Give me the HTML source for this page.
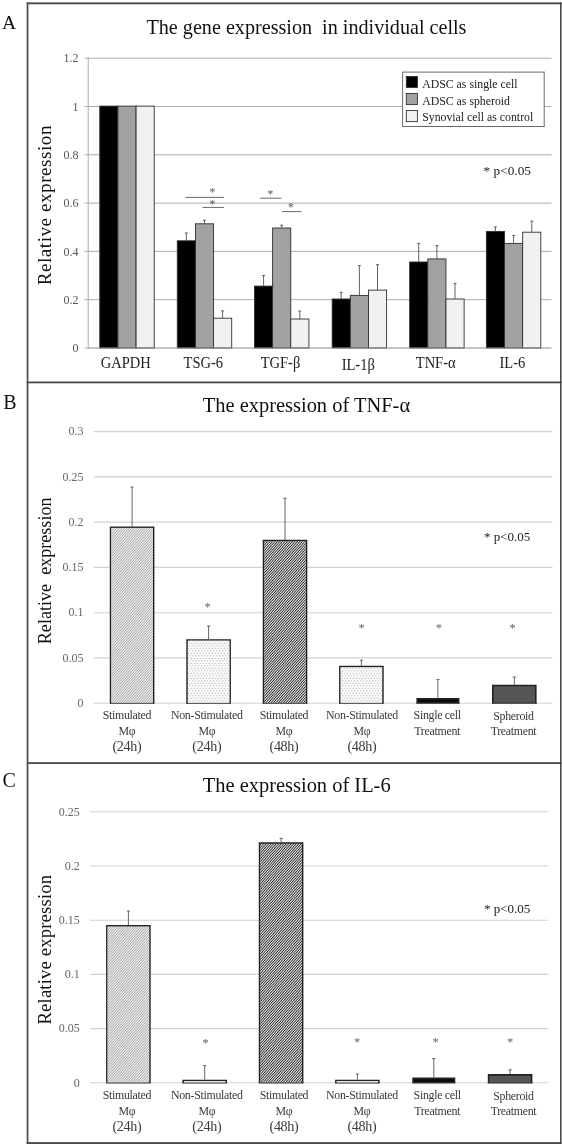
<!DOCTYPE html><html><head><meta charset="utf-8"><title>Figure</title><style>html,body{margin:0;padding:0;background:#fff}svg{display:block;filter:grayscale(1)}.b{filter:blur(0.35px)}text{font-family:"Liberation Serif",serif}</style></head><body>
<svg width="562" height="1145" viewBox="0 0 562 1145">
<defs>
<pattern id="h1" width="2.5" height="2.8" patternUnits="userSpaceOnUse"><rect width="2.5" height="2.8" fill="#ededed"/><path d="M-1.25 4.199999999999999L3.75 -1.4M-1.25 1.4L1.25 -1.4M1.25 4.199999999999999L3.75 1.4" stroke="#a3a3a3" stroke-width="0.9"/></pattern>
<pattern id="h2" width="2.5" height="2.8" patternUnits="userSpaceOnUse"><rect width="2.5" height="2.8" fill="#cfcfcf"/><path d="M-1.25 4.199999999999999L3.75 -1.4M-1.25 1.4L1.25 -1.4M1.25 4.199999999999999L3.75 1.4" stroke="#2e2e2e" stroke-width="0.95"/></pattern>
<pattern id="d1" width="3" height="5" patternUnits="userSpaceOnUse"><rect width="3" height="5" fill="#fbfbfb"/><circle cx="0.75" cy="0.75" r="0.6" fill="#a0a0a0"/><circle cx="2.25" cy="3.25" r="0.6" fill="#a0a0a0"/></pattern>
</defs>
<rect width="562" height="1145" fill="#fff"/>
<g class="b">
<rect x="26.7" y="2.4" width="534.9" height="1.9" fill="#4a4a4a"/>
<rect x="26.7" y="2.4" width="1.7" height="1141.6" fill="#4a4a4a"/>
<rect x="560.0" y="2.4" width="1.6" height="1141.6" fill="#4a4a4a"/>
<rect x="26.7" y="1142.1" width="534.9" height="1.9" fill="#4a4a4a"/>
<rect x="26.7" y="381.5" width="535" height="1.8" fill="#4a4a4a"/>
<rect x="26.7" y="762.2" width="535" height="1.8" fill="#4a4a4a"/>
<text x="1.9" y="29.3" font-size="19.6" fill="#111">A</text>
<text x="3.3" y="408.6" font-size="20.0" fill="#111">B</text>
<text x="2.6" y="786.9" font-size="20.0" fill="#111">C</text>
<line x1="88.2" y1="299.7" x2="551.5" y2="299.7" stroke="#adadad" stroke-width="1"/>
<line x1="88.2" y1="251.4" x2="551.5" y2="251.4" stroke="#adadad" stroke-width="1"/>
<line x1="88.2" y1="203.1" x2="551.5" y2="203.1" stroke="#adadad" stroke-width="1"/>
<line x1="88.2" y1="154.8" x2="551.5" y2="154.8" stroke="#adadad" stroke-width="1"/>
<line x1="88.2" y1="106.5" x2="551.5" y2="106.5" stroke="#adadad" stroke-width="1"/>
<line x1="88.2" y1="58.2" x2="551.5" y2="58.2" stroke="#adadad" stroke-width="1"/>
<line x1="84.6" y1="348.0" x2="88.2" y2="348.0" stroke="#adadad" stroke-width="1"/>
<text x="78.4" y="352.1" font-size="12" text-anchor="end" fill="#555">0</text>
<line x1="84.6" y1="299.7" x2="88.2" y2="299.7" stroke="#adadad" stroke-width="1"/>
<text x="78.4" y="303.8" font-size="12" text-anchor="end" fill="#555">0.2</text>
<line x1="84.6" y1="251.4" x2="88.2" y2="251.4" stroke="#adadad" stroke-width="1"/>
<text x="78.4" y="255.5" font-size="12" text-anchor="end" fill="#555">0.4</text>
<line x1="84.6" y1="203.1" x2="88.2" y2="203.1" stroke="#adadad" stroke-width="1"/>
<text x="78.4" y="207.2" font-size="12" text-anchor="end" fill="#555">0.6</text>
<line x1="84.6" y1="154.8" x2="88.2" y2="154.8" stroke="#adadad" stroke-width="1"/>
<text x="78.4" y="158.9" font-size="12" text-anchor="end" fill="#555">0.8</text>
<line x1="84.6" y1="106.5" x2="88.2" y2="106.5" stroke="#adadad" stroke-width="1"/>
<text x="78.4" y="110.6" font-size="12" text-anchor="end" fill="#555">1</text>
<line x1="84.6" y1="58.2" x2="88.2" y2="58.2" stroke="#adadad" stroke-width="1"/>
<text x="78.4" y="62.3" font-size="12" text-anchor="end" fill="#555">1.2</text>
<line x1="88.2" y1="57.3" x2="88.2" y2="348.5" stroke="#adadad" stroke-width="1"/>
<text x="146.5" y="33.6" font-size="20.15" fill="#111" xml:space="preserve">The gene expression  in individual cells</text>
<text transform="translate(51.2,285.3) rotate(-90)" font-size="19.2" letter-spacing="0.5" fill="#111">Relative expression</text>
<rect x="99.78" y="106.1" width="18.15" height="241.9" fill="#000" stroke="#2e2e2e" stroke-width="0.9"/>
<rect x="117.93" y="106.1" width="18.15" height="241.9" fill="#a2a2a2" stroke="#2e2e2e" stroke-width="0.9"/>
<rect x="136.07" y="106.1" width="18.15" height="241.9" fill="#f1f1f1" stroke="#2e2e2e" stroke-width="0.9"/>
<rect x="177.28" y="240.8" width="18.15" height="107.2" fill="#000" stroke="#2e2e2e" stroke-width="0.9"/>
<path d="M186.3 240.8V233M184.8 233H187.8" stroke="#505050" stroke-width="0.9" fill="none"/>
<rect x="195.43" y="223.8" width="18.15" height="124.2" fill="#a2a2a2" stroke="#2e2e2e" stroke-width="0.9"/>
<path d="M204.5 223.8V220.2M203.0 220.2H206.0" stroke="#505050" stroke-width="0.9" fill="none"/>
<rect x="213.57" y="318.2" width="18.15" height="29.8" fill="#f1f1f1" stroke="#2e2e2e" stroke-width="0.9"/>
<path d="M222.6 318.2V310.9M221.1 310.9H224.1" stroke="#505050" stroke-width="0.9" fill="none"/>
<rect x="254.47" y="286.1" width="18.15" height="61.9" fill="#000" stroke="#2e2e2e" stroke-width="0.9"/>
<path d="M263.6 286.1V275.5M262.1 275.5H265.1" stroke="#505050" stroke-width="0.9" fill="none"/>
<rect x="272.62" y="228" width="18.15" height="120.0" fill="#a2a2a2" stroke="#2e2e2e" stroke-width="0.9"/>
<path d="M281.7 228V225.2M280.2 225.2H283.2" stroke="#505050" stroke-width="0.9" fill="none"/>
<rect x="290.77" y="319" width="18.15" height="29.0" fill="#f1f1f1" stroke="#2e2e2e" stroke-width="0.9"/>
<path d="M299.8 319V311M298.3 311H301.3" stroke="#505050" stroke-width="0.9" fill="none"/>
<rect x="332.17" y="299" width="18.15" height="49.0" fill="#000" stroke="#2e2e2e" stroke-width="0.9"/>
<path d="M341.2 299V292.3M339.7 292.3H342.7" stroke="#505050" stroke-width="0.9" fill="none"/>
<rect x="350.32" y="295.4" width="18.15" height="52.6" fill="#a2a2a2" stroke="#2e2e2e" stroke-width="0.9"/>
<path d="M359.4 295.4V265.6M357.9 265.6H360.9" stroke="#505050" stroke-width="0.9" fill="none"/>
<rect x="368.47" y="290.1" width="18.15" height="57.9" fill="#f1f1f1" stroke="#2e2e2e" stroke-width="0.9"/>
<path d="M377.5 290.1V264.7M376.0 264.7H379.0" stroke="#505050" stroke-width="0.9" fill="none"/>
<rect x="409.67" y="262" width="18.15" height="86.0" fill="#000" stroke="#2e2e2e" stroke-width="0.9"/>
<path d="M418.7 262V243.4M417.2 243.4H420.2" stroke="#505050" stroke-width="0.9" fill="none"/>
<rect x="427.82" y="258.9" width="18.15" height="89.1" fill="#a2a2a2" stroke="#2e2e2e" stroke-width="0.9"/>
<path d="M436.9 258.9V245.6M435.4 245.6H438.4" stroke="#505050" stroke-width="0.9" fill="none"/>
<rect x="445.97" y="299" width="18.15" height="49.0" fill="#f1f1f1" stroke="#2e2e2e" stroke-width="0.9"/>
<path d="M455.0 299V283.4M453.5 283.4H456.5" stroke="#505050" stroke-width="0.9" fill="none"/>
<rect x="486.38" y="231.4" width="18.15" height="116.6" fill="#000" stroke="#2e2e2e" stroke-width="0.9"/>
<path d="M495.4 231.4V226.9M493.9 226.9H496.9" stroke="#505050" stroke-width="0.9" fill="none"/>
<rect x="504.52" y="243.4" width="18.15" height="104.6" fill="#a2a2a2" stroke="#2e2e2e" stroke-width="0.9"/>
<path d="M513.6 243.4V235.4M512.1 235.4H515.1" stroke="#505050" stroke-width="0.9" fill="none"/>
<rect x="522.67" y="232.2" width="18.15" height="115.8" fill="#f1f1f1" stroke="#2e2e2e" stroke-width="0.9"/>
<path d="M531.8 232.2V221.1M530.3 221.1H533.3" stroke="#505050" stroke-width="0.9" fill="none"/>
<line x1="88.2" y1="348.0" x2="551.5" y2="348.0" stroke="#8c8c8c" stroke-width="1"/>
<text transform="translate(125.8,367.7) scale(0.875,1)" font-size="16.6" text-anchor="middle" fill="#222">GAPDH</text>
<text transform="translate(203.3,367.7) scale(0.875,1)" font-size="16.6" text-anchor="middle" fill="#222">TSG-6</text>
<text transform="translate(280.5,367.7) scale(0.875,1)" font-size="16.6" text-anchor="middle" fill="#222">TGF-β</text>
<text transform="translate(358.2,369.9) scale(0.875,1)" font-size="16.6" text-anchor="middle" fill="#222">IL-1β</text>
<text transform="translate(435.7,367.7) scale(0.875,1)" font-size="16.6" text-anchor="middle" fill="#222">TNF-α</text>
<text transform="translate(512.4,367.7) scale(0.875,1)" font-size="16.6" text-anchor="middle" fill="#222">IL-6</text>
<line x1="185.4" y1="197.4" x2="224" y2="197.4" stroke="#686868" stroke-width="1"/>
<line x1="202.4" y1="207.4" x2="224" y2="207.4" stroke="#686868" stroke-width="1"/>
<line x1="260.2" y1="198.2" x2="281.4" y2="198.2" stroke="#686868" stroke-width="1"/>
<line x1="282.1" y1="211.6" x2="301.5" y2="211.6" stroke="#686868" stroke-width="1"/>
<text x="212.4" y="195.5" font-size="11.5" text-anchor="middle" fill="#555">*</text>
<text x="212.4" y="208.20000000000002" font-size="11.5" text-anchor="middle" fill="#555">*</text>
<text x="270.4" y="198.0" font-size="11.5" text-anchor="middle" fill="#555">*</text>
<text x="290.8" y="211.10000000000002" font-size="11.5" text-anchor="middle" fill="#555">*</text>
<rect x="402.6" y="72.1" width="141.6" height="54.4" fill="#fff" stroke="#6a6a6a" stroke-width="1"/>
<rect x="406.3" y="76.5" width="11.1" height="11.1" fill="#000" stroke="#333" stroke-width="0.9"/>
<text x="422.2" y="87.8" font-size="11.8" fill="#222">ADSC as single cell</text>
<rect x="406.3" y="93.5" width="11.1" height="11.1" fill="#a2a2a2" stroke="#333" stroke-width="0.9"/>
<text x="422.2" y="104.6" font-size="11.8" fill="#222">ADSC as spheroid</text>
<rect x="406.3" y="110.5" width="11.1" height="11.1" fill="#f1f1f1" stroke="#333" stroke-width="0.9"/>
<text x="422.2" y="121.4" font-size="11.8" fill="#222">Synovial cell as control</text>
<text x="483.6" y="175" font-size="13.3" fill="#222">* p&lt;0.05</text>
<line x1="93.9" y1="703.2" x2="552.5" y2="703.2" stroke="#d2d2d2" stroke-width="1.1"/>
<text x="83.6" y="706.9" font-size="12" text-anchor="end" fill="#666">0</text>
<line x1="93.9" y1="657.9" x2="552.5" y2="657.9" stroke="#d2d2d2" stroke-width="1.1"/>
<text x="83.6" y="661.6" font-size="12" text-anchor="end" fill="#666">0.05</text>
<line x1="93.9" y1="612.7" x2="552.5" y2="612.7" stroke="#d2d2d2" stroke-width="1.1"/>
<text x="83.6" y="616.4" font-size="12" text-anchor="end" fill="#666">0.1</text>
<line x1="93.9" y1="567.4" x2="552.5" y2="567.4" stroke="#d2d2d2" stroke-width="1.1"/>
<text x="83.6" y="571.1" font-size="12" text-anchor="end" fill="#666">0.15</text>
<line x1="93.9" y1="522.1" x2="552.5" y2="522.1" stroke="#d2d2d2" stroke-width="1.1"/>
<text x="83.6" y="525.8" font-size="12" text-anchor="end" fill="#666">0.2</text>
<line x1="93.9" y1="476.9" x2="552.5" y2="476.9" stroke="#d2d2d2" stroke-width="1.1"/>
<text x="83.6" y="480.6" font-size="12" text-anchor="end" fill="#666">0.25</text>
<line x1="93.9" y1="431.6" x2="552.5" y2="431.6" stroke="#d2d2d2" stroke-width="1.1"/>
<text x="83.6" y="435.3" font-size="12" text-anchor="end" fill="#666">0.3</text>
<text x="202.8" y="411.5" font-size="20.45" fill="#111">The expression of TNF-α</text>
<text transform="translate(50.8,644.2) rotate(-90)" font-size="18.1" letter-spacing="0" fill="#111" xml:space="preserve">Relative  expression</text>
<path d="M132.1 526.4V487M130.5 487H133.7" stroke="#555" stroke-width="0.9" fill="none"/>
<rect x="110.6" y="527.2" width="43.0" height="176.0" fill="#c9c9c9"/>
<path d="M110.6 703.5V527.2H153.6V703.5" fill="none" stroke="#222" stroke-width="1.6"/>
<line x1="109.8" y1="703.2" x2="154.4" y2="703.2" stroke="#333" stroke-width="1.2"/>
<path d="M208.6 639.2V626M207.0 626H210.2" stroke="#555" stroke-width="0.9" fill="none"/>
<rect x="187.1" y="640.0" width="43.0" height="63.2" fill="#f0f0f0"/>
<path d="M187.1 703.5V640.0H230.1V703.5" fill="none" stroke="#222" stroke-width="1.6"/>
<line x1="186.2" y1="703.2" x2="230.9" y2="703.2" stroke="#333" stroke-width="1.2"/>
<text x="207.7" y="611.3" font-size="12.5" text-anchor="middle" fill="#666">*</text>
<path d="M285.0 539.8V498.2M283.4 498.2H286.6" stroke="#555" stroke-width="0.9" fill="none"/>
<rect x="263.5" y="540.6" width="43.0" height="162.6" fill="#7c7c7c"/>
<path d="M263.5 703.5V540.6H306.5V703.5" fill="none" stroke="#222" stroke-width="1.6"/>
<line x1="262.7" y1="703.2" x2="307.3" y2="703.2" stroke="#333" stroke-width="1.2"/>
<path d="M361.4 665.8V660.2M359.79999999999995 660.2H363.0" stroke="#555" stroke-width="0.9" fill="none"/>
<rect x="339.9" y="666.6" width="43.0" height="36.6" fill="#f0f0f0"/>
<path d="M339.9 703.5V666.6H382.9V703.5" fill="none" stroke="#222" stroke-width="1.6"/>
<line x1="339.1" y1="703.2" x2="383.7" y2="703.2" stroke="#333" stroke-width="1.2"/>
<text x="361.6" y="631.6" font-size="12.5" text-anchor="middle" fill="#666">*</text>
<path d="M437.9 698.1V679.6M436.29999999999995 679.6H439.5" stroke="#555" stroke-width="0.9" fill="none"/>
<rect x="417.2" y="698.9" width="41.4" height="4.3" fill="#0a0a0a"/>
<path d="M417.2 703.5V698.9H458.6V703.5" fill="none" stroke="#222" stroke-width="1.6"/>
<line x1="416.4" y1="703.2" x2="459.4" y2="703.2" stroke="#333" stroke-width="1.2"/>
<text x="438.8" y="631.6" font-size="12.5" text-anchor="middle" fill="#666">*</text>
<path d="M514.3 684.7V677M512.6999999999999 677H515.9" stroke="#555" stroke-width="0.9" fill="none"/>
<rect x="492.8" y="685.5" width="43.0" height="17.7" fill="#555"/>
<path d="M492.8 703.5V685.5H535.8V703.5" fill="none" stroke="#222" stroke-width="1.6"/>
<line x1="492.0" y1="703.2" x2="536.6" y2="703.2" stroke="#333" stroke-width="1.2"/>
<text x="512.6" y="631.6" font-size="12.5" text-anchor="middle" fill="#666">*</text>
<text x="126.9" y="718.8" font-size="11.9" letter-spacing="-0.3" text-anchor="middle" fill="#3a3a3a">Stimulated</text>
<text x="126.9" y="735.0" font-size="11.9" letter-spacing="-0.3" text-anchor="middle" fill="#3a3a3a">Mφ</text>
<text x="126.9" y="751.4" font-size="14.1" letter-spacing="-0.3" text-anchor="middle" fill="#3a3a3a">(24h)</text>
<text x="206.8" y="718.8" font-size="11.9" letter-spacing="-0.3" text-anchor="middle" fill="#3a3a3a">Non-Stimulated</text>
<text x="206.8" y="735.0" font-size="11.9" letter-spacing="-0.3" text-anchor="middle" fill="#3a3a3a">Mφ</text>
<text x="206.8" y="751.4" font-size="14.1" letter-spacing="-0.3" text-anchor="middle" fill="#3a3a3a">(24h)</text>
<text x="284.0" y="718.8" font-size="11.9" letter-spacing="-0.3" text-anchor="middle" fill="#3a3a3a">Stimulated</text>
<text x="284.0" y="735.0" font-size="11.9" letter-spacing="-0.3" text-anchor="middle" fill="#3a3a3a">Mφ</text>
<text x="284.0" y="751.4" font-size="14.1" letter-spacing="-0.3" text-anchor="middle" fill="#3a3a3a">(48h)</text>
<text x="361.9" y="718.8" font-size="11.9" letter-spacing="-0.3" text-anchor="middle" fill="#3a3a3a">Non-Stimulated</text>
<text x="361.9" y="735.0" font-size="11.9" letter-spacing="-0.3" text-anchor="middle" fill="#3a3a3a">Mφ</text>
<text x="361.9" y="751.4" font-size="14.1" letter-spacing="-0.3" text-anchor="middle" fill="#3a3a3a">(48h)</text>
<text x="437.2" y="718.8" font-size="11.9" letter-spacing="-0.3" text-anchor="middle" fill="#3a3a3a">Single cell</text>
<text x="437.2" y="735.0" font-size="11.9" letter-spacing="-0.3" text-anchor="middle" fill="#3a3a3a">Treatment</text>
<text x="513.5" y="720.0" font-size="11.9" letter-spacing="-0.3" text-anchor="middle" fill="#3a3a3a">Spheroid</text>
<text x="513.5" y="735.0" font-size="11.9" letter-spacing="-0.3" text-anchor="middle" fill="#3a3a3a">Treatment</text>
<text x="484" y="540.8" font-size="13" fill="#222">* p&lt;0.05</text>
<line x1="90.2" y1="1082.8" x2="548.3" y2="1082.8" stroke="#d2d2d2" stroke-width="1.1"/>
<text x="79.8" y="1086.5" font-size="12" text-anchor="end" fill="#666">0</text>
<line x1="90.2" y1="1028.6" x2="548.3" y2="1028.6" stroke="#d2d2d2" stroke-width="1.1"/>
<text x="79.8" y="1032.3" font-size="12" text-anchor="end" fill="#666">0.05</text>
<line x1="90.2" y1="974.4" x2="548.3" y2="974.4" stroke="#d2d2d2" stroke-width="1.1"/>
<text x="79.8" y="978.1" font-size="12" text-anchor="end" fill="#666">0.1</text>
<line x1="90.2" y1="920.2" x2="548.3" y2="920.2" stroke="#d2d2d2" stroke-width="1.1"/>
<text x="79.8" y="923.9" font-size="12" text-anchor="end" fill="#666">0.15</text>
<line x1="90.2" y1="866.0" x2="548.3" y2="866.0" stroke="#d2d2d2" stroke-width="1.1"/>
<text x="79.8" y="869.7" font-size="12" text-anchor="end" fill="#666">0.2</text>
<line x1="90.2" y1="811.8" x2="548.3" y2="811.8" stroke="#d2d2d2" stroke-width="1.1"/>
<text x="79.8" y="815.5" font-size="12" text-anchor="end" fill="#666">0.25</text>
<text x="202.8" y="791.5" font-size="20.45" fill="#111">The expression of IL-6</text>
<text transform="translate(50.8,1024.5) rotate(-90)" font-size="18.7" letter-spacing="0.15" fill="#111" xml:space="preserve">Relative expression</text>
<path d="M128.4 925.1V911M126.80000000000001 911H130.0" stroke="#555" stroke-width="0.9" fill="none"/>
<rect x="106.9" y="925.9" width="43.0" height="156.9" fill="#c9c9c9"/>
<path d="M106.9 1083.1V925.9H149.9V1083.1" fill="none" stroke="#222" stroke-width="1.6"/>
<line x1="106.1" y1="1082.8" x2="150.7" y2="1082.8" stroke="#333" stroke-width="1.2"/>
<path d="M204.7 1079.7V1065.6M203.1 1065.6H206.29999999999998" stroke="#555" stroke-width="0.9" fill="none"/>
<rect x="183.2" y="1080.5" width="43.0" height="2.3" fill="#f0f0f0"/>
<path d="M183.2 1083.1V1080.5H226.2V1083.1" fill="none" stroke="#222" stroke-width="1.6"/>
<line x1="182.4" y1="1082.8" x2="227.0" y2="1082.8" stroke="#333" stroke-width="1.2"/>
<text x="205.5" y="1046.7" font-size="12.5" text-anchor="middle" fill="#666">*</text>
<path d="M281.1 842.3V838.4M279.5 838.4H282.70000000000005" stroke="#555" stroke-width="0.9" fill="none"/>
<rect x="259.6" y="843.1" width="43.0" height="239.7" fill="#7c7c7c"/>
<path d="M259.6 1083.1V843.1H302.6V1083.1" fill="none" stroke="#222" stroke-width="1.6"/>
<line x1="258.8" y1="1082.8" x2="303.4" y2="1082.8" stroke="#333" stroke-width="1.2"/>
<path d="M357.4 1079.7V1074.1M355.79999999999995 1074.1H359.0" stroke="#555" stroke-width="0.9" fill="none"/>
<rect x="335.9" y="1080.5" width="43.0" height="2.3" fill="#f0f0f0"/>
<path d="M335.9 1083.1V1080.5H378.9V1083.1" fill="none" stroke="#222" stroke-width="1.6"/>
<line x1="335.1" y1="1082.8" x2="379.7" y2="1082.8" stroke="#333" stroke-width="1.2"/>
<text x="357.2" y="1045.9" font-size="12.5" text-anchor="middle" fill="#666">*</text>
<path d="M433.8 1077.6V1058.6M432.2 1058.6H435.40000000000003" stroke="#555" stroke-width="0.9" fill="none"/>
<rect x="413.1" y="1078.4" width="41.4" height="4.4" fill="#0a0a0a"/>
<path d="M413.1 1083.1V1078.4H454.5V1083.1" fill="none" stroke="#222" stroke-width="1.6"/>
<line x1="412.3" y1="1082.8" x2="455.3" y2="1082.8" stroke="#333" stroke-width="1.2"/>
<text x="435.5" y="1045.9" font-size="12.5" text-anchor="middle" fill="#666">*</text>
<path d="M510.1 1074.1V1069.8M508.5 1069.8H511.70000000000005" stroke="#555" stroke-width="0.9" fill="none"/>
<rect x="488.6" y="1074.9" width="43.0" height="7.9" fill="#555"/>
<path d="M488.6 1083.1V1074.9H531.6V1083.1" fill="none" stroke="#222" stroke-width="1.6"/>
<line x1="487.8" y1="1082.8" x2="532.4" y2="1082.8" stroke="#333" stroke-width="1.2"/>
<text x="510.2" y="1045.9" font-size="12.5" text-anchor="middle" fill="#666">*</text>
<text x="126.9" y="1098.5" font-size="11.9" letter-spacing="-0.3" text-anchor="middle" fill="#3a3a3a">Stimulated</text>
<text x="126.9" y="1114.7" font-size="11.9" letter-spacing="-0.3" text-anchor="middle" fill="#3a3a3a">Mφ</text>
<text x="126.9" y="1131.1" font-size="14.1" letter-spacing="-0.3" text-anchor="middle" fill="#3a3a3a">(24h)</text>
<text x="206.8" y="1098.5" font-size="11.9" letter-spacing="-0.3" text-anchor="middle" fill="#3a3a3a">Non-Stimulated</text>
<text x="206.8" y="1114.7" font-size="11.9" letter-spacing="-0.3" text-anchor="middle" fill="#3a3a3a">Mφ</text>
<text x="206.8" y="1131.1" font-size="14.1" letter-spacing="-0.3" text-anchor="middle" fill="#3a3a3a">(24h)</text>
<text x="284.0" y="1098.5" font-size="11.9" letter-spacing="-0.3" text-anchor="middle" fill="#3a3a3a">Stimulated</text>
<text x="284.0" y="1114.7" font-size="11.9" letter-spacing="-0.3" text-anchor="middle" fill="#3a3a3a">Mφ</text>
<text x="284.0" y="1131.1" font-size="14.1" letter-spacing="-0.3" text-anchor="middle" fill="#3a3a3a">(48h)</text>
<text x="361.9" y="1098.5" font-size="11.9" letter-spacing="-0.3" text-anchor="middle" fill="#3a3a3a">Non-Stimulated</text>
<text x="361.9" y="1114.7" font-size="11.9" letter-spacing="-0.3" text-anchor="middle" fill="#3a3a3a">Mφ</text>
<text x="361.9" y="1131.1" font-size="14.1" letter-spacing="-0.3" text-anchor="middle" fill="#3a3a3a">(48h)</text>
<text x="437.2" y="1098.5" font-size="11.9" letter-spacing="-0.3" text-anchor="middle" fill="#3a3a3a">Single cell</text>
<text x="437.2" y="1114.7" font-size="11.9" letter-spacing="-0.3" text-anchor="middle" fill="#3a3a3a">Treatment</text>
<text x="513.5" y="1099.7" font-size="11.9" letter-spacing="-0.3" text-anchor="middle" fill="#3a3a3a">Spheroid</text>
<text x="513.5" y="1114.7" font-size="11.9" letter-spacing="-0.3" text-anchor="middle" fill="#3a3a3a">Treatment</text>
<text x="484" y="912.7" font-size="13" fill="#222">* p&lt;0.05</text>
</g>
<clipPath id="c1"><rect x="111.3" y="527.9" width="41.6" height="174.8"/></clipPath>
<rect x="111.3" y="527.9" width="41.6" height="174.8" fill="#ececec"/>
<path clip-path="url(#c1)" d="M-47.25 703.7l157.86 -176.8M-44.75 703.7l157.86 -176.8M-42.25 703.7l157.86 -176.8M-39.75 703.7l157.86 -176.8M-37.25 703.7l157.86 -176.8M-34.75 703.7l157.86 -176.8M-32.25 703.7l157.86 -176.8M-29.75 703.7l157.86 -176.8M-27.25 703.7l157.86 -176.8M-24.75 703.7l157.86 -176.8M-22.25 703.7l157.86 -176.8M-19.75 703.7l157.86 -176.8M-17.25 703.7l157.86 -176.8M-14.75 703.7l157.86 -176.8M-12.25 703.7l157.86 -176.8M-9.75 703.7l157.86 -176.8M-7.25 703.7l157.86 -176.8M-4.75 703.7l157.86 -176.8M-2.25 703.7l157.86 -176.8M0.25 703.7l157.86 -176.8M2.75 703.7l157.86 -176.8M5.25 703.7l157.86 -176.8M7.75 703.7l157.86 -176.8M10.25 703.7l157.86 -176.8M12.75 703.7l157.86 -176.8M15.25 703.7l157.86 -176.8M17.75 703.7l157.86 -176.8M20.25 703.7l157.86 -176.8M22.75 703.7l157.86 -176.8M25.25 703.7l157.86 -176.8M27.75 703.7l157.86 -176.8M30.25 703.7l157.86 -176.8M32.75 703.7l157.86 -176.8M35.25 703.7l157.86 -176.8M37.75 703.7l157.86 -176.8M40.25 703.7l157.86 -176.8M42.75 703.7l157.86 -176.8M45.25 703.7l157.86 -176.8M47.75 703.7l157.86 -176.8M50.25 703.7l157.86 -176.8M52.75 703.7l157.86 -176.8M55.25 703.7l157.86 -176.8M57.75 703.7l157.86 -176.8M60.25 703.7l157.86 -176.8M62.75 703.7l157.86 -176.8M65.25 703.7l157.86 -176.8M67.75 703.7l157.86 -176.8M70.25 703.7l157.86 -176.8M72.75 703.7l157.86 -176.8M75.25 703.7l157.86 -176.8M77.75 703.7l157.86 -176.8M80.25 703.7l157.86 -176.8M82.75 703.7l157.86 -176.8M85.25 703.7l157.86 -176.8M87.75 703.7l157.86 -176.8M90.25 703.7l157.86 -176.8M92.75 703.7l157.86 -176.8M95.25 703.7l157.86 -176.8M97.75 703.7l157.86 -176.8M100.25 703.7l157.86 -176.8M102.75 703.7l157.86 -176.8M105.25 703.7l157.86 -176.8M107.75 703.7l157.86 -176.8M110.25 703.7l157.86 -176.8M112.75 703.7l157.86 -176.8M115.25 703.7l157.86 -176.8M117.75 703.7l157.86 -176.8M120.25 703.7l157.86 -176.8M122.75 703.7l157.86 -176.8M125.25 703.7l157.86 -176.8M127.75 703.7l157.86 -176.8M130.25 703.7l157.86 -176.8M132.75 703.7l157.86 -176.8M135.25 703.7l157.86 -176.8M137.75 703.7l157.86 -176.8M140.25 703.7l157.86 -176.8M142.75 703.7l157.86 -176.8M145.25 703.7l157.86 -176.8M147.75 703.7l157.86 -176.8M150.25 703.7l157.86 -176.8M152.75 703.7l157.86 -176.8M155.25 703.7l157.86 -176.8" stroke="#a2a2a2" stroke-width="0.95" fill="none"/>
<rect x="187.8" y="640.7" width="41.6" height="62.0" fill="url(#d1)"/>
<clipPath id="c2"><rect x="264.2" y="541.3" width="41.6" height="161.4"/></clipPath>
<rect x="264.2" y="541.3" width="41.6" height="161.4" fill="#d2d2d2"/>
<path clip-path="url(#c2)" d="M117.58 703.7l145.89 -163.4M120.08 703.7l145.89 -163.4M122.58 703.7l145.89 -163.4M125.08 703.7l145.89 -163.4M127.58 703.7l145.89 -163.4M130.08 703.7l145.89 -163.4M132.58 703.7l145.89 -163.4M135.08 703.7l145.89 -163.4M137.58 703.7l145.89 -163.4M140.08 703.7l145.89 -163.4M142.58 703.7l145.89 -163.4M145.08 703.7l145.89 -163.4M147.58 703.7l145.89 -163.4M150.08 703.7l145.89 -163.4M152.58 703.7l145.89 -163.4M155.08 703.7l145.89 -163.4M157.58 703.7l145.89 -163.4M160.08 703.7l145.89 -163.4M162.58 703.7l145.89 -163.4M165.08 703.7l145.89 -163.4M167.58 703.7l145.89 -163.4M170.08 703.7l145.89 -163.4M172.58 703.7l145.89 -163.4M175.08 703.7l145.89 -163.4M177.58 703.7l145.89 -163.4M180.08 703.7l145.89 -163.4M182.58 703.7l145.89 -163.4M185.08 703.7l145.89 -163.4M187.58 703.7l145.89 -163.4M190.08 703.7l145.89 -163.4M192.58 703.7l145.89 -163.4M195.08 703.7l145.89 -163.4M197.58 703.7l145.89 -163.4M200.08 703.7l145.89 -163.4M202.58 703.7l145.89 -163.4M205.08 703.7l145.89 -163.4M207.58 703.7l145.89 -163.4M210.08 703.7l145.89 -163.4M212.58 703.7l145.89 -163.4M215.08 703.7l145.89 -163.4M217.58 703.7l145.89 -163.4M220.08 703.7l145.89 -163.4M222.58 703.7l145.89 -163.4M225.08 703.7l145.89 -163.4M227.58 703.7l145.89 -163.4M230.08 703.7l145.89 -163.4M232.58 703.7l145.89 -163.4M235.08 703.7l145.89 -163.4M237.58 703.7l145.89 -163.4M240.08 703.7l145.89 -163.4M242.58 703.7l145.89 -163.4M245.08 703.7l145.89 -163.4M247.58 703.7l145.89 -163.4M250.08 703.7l145.89 -163.4M252.58 703.7l145.89 -163.4M255.08 703.7l145.89 -163.4M257.58 703.7l145.89 -163.4M260.08 703.7l145.89 -163.4M262.58 703.7l145.89 -163.4M265.08 703.7l145.89 -163.4M267.58 703.7l145.89 -163.4M270.08 703.7l145.89 -163.4M272.58 703.7l145.89 -163.4M275.08 703.7l145.89 -163.4M277.58 703.7l145.89 -163.4M280.08 703.7l145.89 -163.4M282.58 703.7l145.89 -163.4M285.08 703.7l145.89 -163.4M287.58 703.7l145.89 -163.4M290.08 703.7l145.89 -163.4M292.58 703.7l145.89 -163.4M295.08 703.7l145.89 -163.4M297.58 703.7l145.89 -163.4M300.08 703.7l145.89 -163.4M302.58 703.7l145.89 -163.4M305.08 703.7l145.89 -163.4M307.58 703.7l145.89 -163.4" stroke="#2c2c2c" stroke-width="1.0" fill="none"/>
<rect x="340.6" y="667.3" width="41.6" height="35.4" fill="url(#d1)"/>
<clipPath id="c3"><rect x="107.6" y="926.6" width="41.6" height="155.7"/></clipPath>
<rect x="107.6" y="926.6" width="41.6" height="155.7" fill="#ececec"/>
<path clip-path="url(#c3)" d="M-33.94 1083.3l140.80 -157.7M-31.44 1083.3l140.80 -157.7M-28.94 1083.3l140.80 -157.7M-26.44 1083.3l140.80 -157.7M-23.94 1083.3l140.80 -157.7M-21.44 1083.3l140.80 -157.7M-18.94 1083.3l140.80 -157.7M-16.44 1083.3l140.80 -157.7M-13.94 1083.3l140.80 -157.7M-11.44 1083.3l140.80 -157.7M-8.94 1083.3l140.80 -157.7M-6.44 1083.3l140.80 -157.7M-3.94 1083.3l140.80 -157.7M-1.44 1083.3l140.80 -157.7M1.06 1083.3l140.80 -157.7M3.56 1083.3l140.80 -157.7M6.06 1083.3l140.80 -157.7M8.56 1083.3l140.80 -157.7M11.06 1083.3l140.80 -157.7M13.56 1083.3l140.80 -157.7M16.06 1083.3l140.80 -157.7M18.56 1083.3l140.80 -157.7M21.06 1083.3l140.80 -157.7M23.56 1083.3l140.80 -157.7M26.06 1083.3l140.80 -157.7M28.56 1083.3l140.80 -157.7M31.06 1083.3l140.80 -157.7M33.56 1083.3l140.80 -157.7M36.06 1083.3l140.80 -157.7M38.56 1083.3l140.80 -157.7M41.06 1083.3l140.80 -157.7M43.56 1083.3l140.80 -157.7M46.06 1083.3l140.80 -157.7M48.56 1083.3l140.80 -157.7M51.06 1083.3l140.80 -157.7M53.56 1083.3l140.80 -157.7M56.06 1083.3l140.80 -157.7M58.56 1083.3l140.80 -157.7M61.06 1083.3l140.80 -157.7M63.56 1083.3l140.80 -157.7M66.06 1083.3l140.80 -157.7M68.56 1083.3l140.80 -157.7M71.06 1083.3l140.80 -157.7M73.56 1083.3l140.80 -157.7M76.06 1083.3l140.80 -157.7M78.56 1083.3l140.80 -157.7M81.06 1083.3l140.80 -157.7M83.56 1083.3l140.80 -157.7M86.06 1083.3l140.80 -157.7M88.56 1083.3l140.80 -157.7M91.06 1083.3l140.80 -157.7M93.56 1083.3l140.80 -157.7M96.06 1083.3l140.80 -157.7M98.56 1083.3l140.80 -157.7M101.06 1083.3l140.80 -157.7M103.56 1083.3l140.80 -157.7M106.06 1083.3l140.80 -157.7M108.56 1083.3l140.80 -157.7M111.06 1083.3l140.80 -157.7M113.56 1083.3l140.80 -157.7M116.06 1083.3l140.80 -157.7M118.56 1083.3l140.80 -157.7M121.06 1083.3l140.80 -157.7M123.56 1083.3l140.80 -157.7M126.06 1083.3l140.80 -157.7M128.56 1083.3l140.80 -157.7M131.06 1083.3l140.80 -157.7M133.56 1083.3l140.80 -157.7M136.06 1083.3l140.80 -157.7M138.56 1083.3l140.80 -157.7M141.06 1083.3l140.80 -157.7M143.56 1083.3l140.80 -157.7M146.06 1083.3l140.80 -157.7M148.56 1083.3l140.80 -157.7M151.06 1083.3l140.80 -157.7" stroke="#a2a2a2" stroke-width="0.95" fill="none"/>
<rect x="183.9" y="1081.2" width="41.6" height="1.1" fill="url(#d1)"/>
<clipPath id="c4"><rect x="260.3" y="843.8" width="41.6" height="238.5"/></clipPath>
<rect x="260.3" y="843.8" width="41.6" height="238.5" fill="#d2d2d2"/>
<path clip-path="url(#c4)" d="M44.83 1083.3l214.73 -240.5M47.33 1083.3l214.73 -240.5M49.83 1083.3l214.73 -240.5M52.33 1083.3l214.73 -240.5M54.83 1083.3l214.73 -240.5M57.33 1083.3l214.73 -240.5M59.83 1083.3l214.73 -240.5M62.33 1083.3l214.73 -240.5M64.83 1083.3l214.73 -240.5M67.33 1083.3l214.73 -240.5M69.83 1083.3l214.73 -240.5M72.33 1083.3l214.73 -240.5M74.83 1083.3l214.73 -240.5M77.33 1083.3l214.73 -240.5M79.83 1083.3l214.73 -240.5M82.33 1083.3l214.73 -240.5M84.83 1083.3l214.73 -240.5M87.33 1083.3l214.73 -240.5M89.83 1083.3l214.73 -240.5M92.33 1083.3l214.73 -240.5M94.83 1083.3l214.73 -240.5M97.33 1083.3l214.73 -240.5M99.83 1083.3l214.73 -240.5M102.33 1083.3l214.73 -240.5M104.83 1083.3l214.73 -240.5M107.33 1083.3l214.73 -240.5M109.83 1083.3l214.73 -240.5M112.33 1083.3l214.73 -240.5M114.83 1083.3l214.73 -240.5M117.33 1083.3l214.73 -240.5M119.83 1083.3l214.73 -240.5M122.33 1083.3l214.73 -240.5M124.83 1083.3l214.73 -240.5M127.33 1083.3l214.73 -240.5M129.83 1083.3l214.73 -240.5M132.33 1083.3l214.73 -240.5M134.83 1083.3l214.73 -240.5M137.33 1083.3l214.73 -240.5M139.83 1083.3l214.73 -240.5M142.33 1083.3l214.73 -240.5M144.83 1083.3l214.73 -240.5M147.33 1083.3l214.73 -240.5M149.83 1083.3l214.73 -240.5M152.33 1083.3l214.73 -240.5M154.83 1083.3l214.73 -240.5M157.33 1083.3l214.73 -240.5M159.83 1083.3l214.73 -240.5M162.33 1083.3l214.73 -240.5M164.83 1083.3l214.73 -240.5M167.33 1083.3l214.73 -240.5M169.83 1083.3l214.73 -240.5M172.33 1083.3l214.73 -240.5M174.83 1083.3l214.73 -240.5M177.33 1083.3l214.73 -240.5M179.83 1083.3l214.73 -240.5M182.33 1083.3l214.73 -240.5M184.83 1083.3l214.73 -240.5M187.33 1083.3l214.73 -240.5M189.83 1083.3l214.73 -240.5M192.33 1083.3l214.73 -240.5M194.83 1083.3l214.73 -240.5M197.33 1083.3l214.73 -240.5M199.83 1083.3l214.73 -240.5M202.33 1083.3l214.73 -240.5M204.83 1083.3l214.73 -240.5M207.33 1083.3l214.73 -240.5M209.83 1083.3l214.73 -240.5M212.33 1083.3l214.73 -240.5M214.83 1083.3l214.73 -240.5M217.33 1083.3l214.73 -240.5M219.83 1083.3l214.73 -240.5M222.33 1083.3l214.73 -240.5M224.83 1083.3l214.73 -240.5M227.33 1083.3l214.73 -240.5M229.83 1083.3l214.73 -240.5M232.33 1083.3l214.73 -240.5M234.83 1083.3l214.73 -240.5M237.33 1083.3l214.73 -240.5M239.83 1083.3l214.73 -240.5M242.33 1083.3l214.73 -240.5M244.83 1083.3l214.73 -240.5M247.33 1083.3l214.73 -240.5M249.83 1083.3l214.73 -240.5M252.33 1083.3l214.73 -240.5M254.83 1083.3l214.73 -240.5M257.33 1083.3l214.73 -240.5M259.83 1083.3l214.73 -240.5M262.33 1083.3l214.73 -240.5M264.83 1083.3l214.73 -240.5M267.33 1083.3l214.73 -240.5M269.83 1083.3l214.73 -240.5M272.33 1083.3l214.73 -240.5M274.83 1083.3l214.73 -240.5M277.33 1083.3l214.73 -240.5M279.83 1083.3l214.73 -240.5M282.33 1083.3l214.73 -240.5M284.83 1083.3l214.73 -240.5M287.33 1083.3l214.73 -240.5M289.83 1083.3l214.73 -240.5M292.33 1083.3l214.73 -240.5M294.83 1083.3l214.73 -240.5M297.33 1083.3l214.73 -240.5M299.83 1083.3l214.73 -240.5M302.33 1083.3l214.73 -240.5" stroke="#2c2c2c" stroke-width="1.0" fill="none"/>
<rect x="336.6" y="1081.2" width="41.6" height="1.1" fill="url(#d1)"/>
</svg></body></html>
